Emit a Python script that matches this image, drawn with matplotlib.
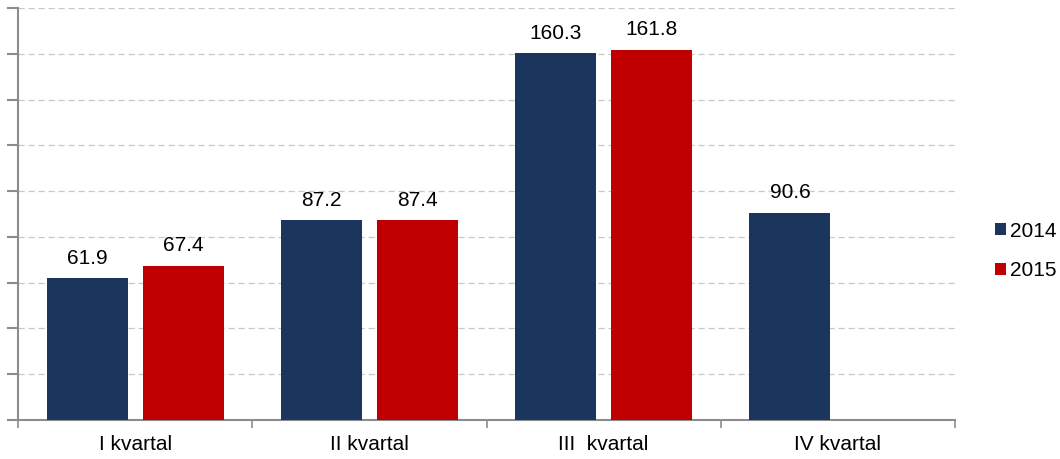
import matplotlib
matplotlib.use('Agg')
import matplotlib.pyplot as plt
from matplotlib.ticker import FixedLocator
import numpy as np

plt.rcParams['font.family'] = ['Liberation Sans', 'DejaVu Sans']

kategorije = ['I kvartal', 'II kvartal', 'III  kvartal', 'IV kvartal']
v2014 = [61.9, 87.2, 160.3, 90.6]
v2015 = [67.4, 87.4, 161.8, None]

plava = '#1a365d'
crvena = '#c00000'
siva = '#8c8c8c'

fig = plt.figure(figsize=(10.6, 4.59), dpi=100)
ax = fig.add_axes([0.017, 0.085, 0.884, 0.8975])

x = np.arange(len(kategorije))
sirina = 0.346
pomak = 0.205

b1 = ax.bar(x - pomak, v2014, sirina, color=plava, label='2014', zorder=3)
x2 = [xi + pomak for xi, v in zip(x, v2015) if v is not None]
y2 = [v for v in v2015 if v is not None]
b2 = ax.bar(x2, y2, sirina, color=crvena, label='2015', zorder=3)

for xi, v in zip(x - pomak, v2014):
    ax.text(xi, v + 4.5, '%.1f' % v, ha='center', va='bottom', fontsize=15)
for xi, v in zip(x2, y2):
    ax.text(xi, v + 4.5, '%.1f' % v, ha='center', va='bottom', fontsize=15)

ax.set_xlim(-0.5, len(kategorije) - 0.5)
ax.set_ylim(0, 180)
ax.set_yticks(np.arange(0, 181, 20))
ax.set_yticklabels([])
ax.yaxis.grid(True, linestyle=(0, (5, 3)), color='#c8c8c8', linewidth=0.9, zorder=0)

ax.set_xticks(x)
ax.set_xticklabels(kategorije, fontsize=15)
ax.xaxis.set_minor_locator(FixedLocator(np.arange(-0.5, len(kategorije), 1)))
ax.tick_params(axis='x', which='major', length=0, pad=11)
ax.tick_params(axis='x', which='minor', length=6, color=siva, width=1.2)
ax.tick_params(axis='y', length=8, color=siva, width=1.5, direction='out')

for s in ['top', 'right']:
    ax.spines[s].set_visible(False)
for s in ['left', 'bottom']:
    ax.spines[s].set_color(siva)
    ax.spines[s].set_linewidth(1.5)

fig.legend(handles=[b1, b2], labels=['2014', '2015'], loc='center left',
           bbox_to_anchor=(0.9214, 0.453), frameon=False, fontsize=15,
           handlelength=0.53, handleheight=0.53, handletextpad=0.15, labelspacing=1.0)

fig.savefig('out.png', dpi=100)
